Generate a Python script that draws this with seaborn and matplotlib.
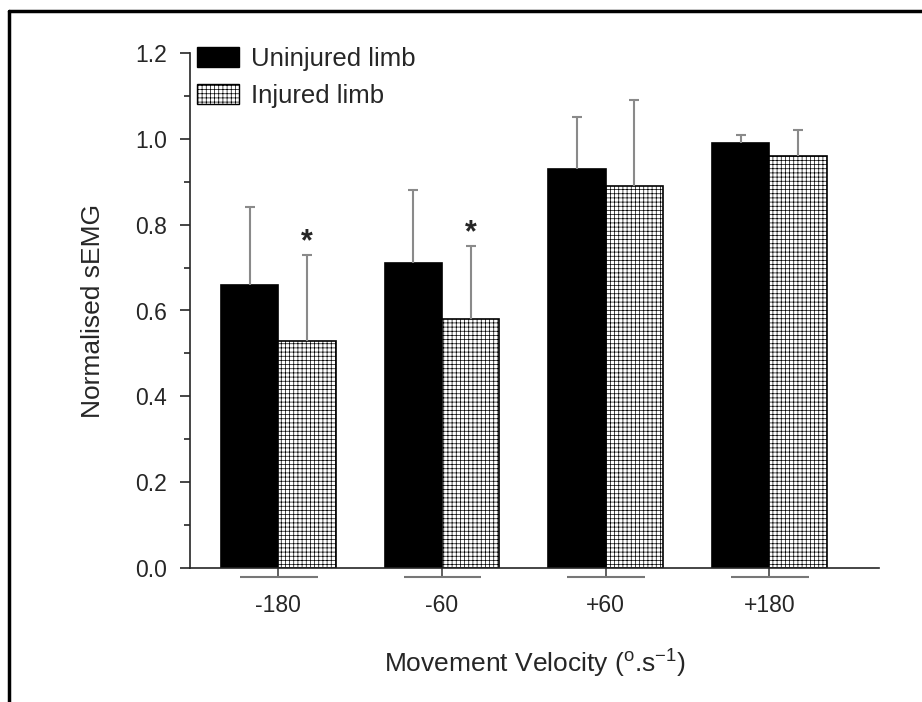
import numpy as np
import pandas as pd
import matplotlib.pyplot as plt
import seaborn as sns
from matplotlib.lines import Line2D
from matplotlib.patches import Patch
from matplotlib.ticker import MultipleLocator, FormatStrFormatter

# Datele
velocities = ["-180", "-60", "+60", "+180"]
uninjured_mean = [0.66, 0.71, 0.93, 0.99]
uninjured_sd = [0.18, 0.17, 0.12, 0.02]
injured_mean = [0.53, 0.58, 0.89, 0.96]
injured_sd = [0.20, 0.17, 0.20, 0.06]
significant = [True, True, False, False]  # asterisc pe membrul lezat

groups = ["Uninjured limb", "Injured limb"]

data = pd.DataFrame({
    "Velocity": velocities * 2,
    "Limb": [groups[0]] * 4 + [groups[1]] * 4,
    "sEMG": uninjured_mean + injured_mean,
})

sns.set_style("ticks")
plt.rcParams["font.family"] = ["Liberation Sans", "DejaVu Sans"]
plt.rcParams["mathtext.default"] = "regular"
plt.rcParams["hatch.linewidth"] = 0.5

fig = plt.figure(figsize=(9.22, 7.02), dpi=100)
ax = fig.add_axes([190 / 922, 1 - 568 / 702, 689 / 922, 515 / 702])

sns.barplot(data=data, x="Velocity", y="sEMG", hue="Limb", order=velocities,
            hue_order=groups, palette=["black", "white"], width=0.7,
            edgecolor="black", linewidth=1.2, errorbar=None, legend=False, ax=ax)

# hasura pentru membrul lezat
for bar in ax.containers[1]:
    bar.set_hatch("++++")

# bare de eroare doar in sus
for cont, means, sds in [(ax.containers[0], uninjured_mean, uninjured_sd),
                         (ax.containers[1], injured_mean, injured_sd)]:
    xs = [b.get_x() + b.get_width() / 2 for b in cont]
    eb = ax.errorbar(xs, means, yerr=[np.zeros(len(sds)), sds], fmt="none",
                     ecolor="#8a8a8a", elinewidth=1.5, capsize=3.6, capthick=1.5, zorder=3)
    eb[1][0].set_visible(False)  # fara cap jos

for b, m, s, sig in zip(ax.containers[1], injured_mean, injured_sd, significant):
    if sig:
        ax.text(b.get_x() + b.get_width() / 2, m + s - 0.005, "*", ha="center",
                va="bottom", fontsize=22, fontweight="bold")

ax.set_ylim(0, 1.2)
ax.set_xlim(-0.54, 3.67)
ax.yaxis.set_major_locator(MultipleLocator(0.2))
ax.yaxis.set_minor_locator(MultipleLocator(0.1))
ax.yaxis.set_major_formatter(FormatStrFormatter("%.1f"))
ax.tick_params(axis="y", which="major", length=7.5, width=1.2, labelsize=16.5, pad=9)
ax.tick_params(axis="y", which="minor", length=4, width=1.2)
ax.tick_params(axis="x", length=7, width=1.2, labelsize=16.5, pad=12, color="#444444")
sns.despine(ax=ax)
ax.spines["left"].set_linewidth(1.2)
ax.spines["bottom"].set_linewidth(1.2)

# liniile gri de sub axa x
ax.hlines([-0.018] * 4, np.arange(4) - 0.235, np.arange(4) + 0.24,
          transform=ax.get_xaxis_transform(), colors="#777777", lw=1.5, clip_on=False)

ax.set_ylabel("Normalised sEMG", fontsize=19, labelpad=22)
ax.set_xlabel("Movement Velocity ($^{o}$.s$^{-1}$)", fontsize=19, labelpad=22)

handles = [Patch(facecolor="black", edgecolor="black"),
           Patch(facecolor="white", edgecolor="black", hatch="++++")]
ax.legend(handles, groups, loc="upper left", bbox_to_anchor=(0.01, 1.012),
          frameon=False, fontsize=18.5, handlelength=1.63, handleheight=0.82,
          handletextpad=0.47, labelspacing=0.5, borderpad=0, borderaxespad=0)

# chenarul imaginii (sus si stanga)
fig.add_artist(Line2D([9 / 922, 1], [1 - 11 / 702] * 2, transform=fig.transFigure,
                      color="black", lw=2.5))
fig.add_artist(Line2D([9 / 922] * 2, [0, 1 - 11 / 702], transform=fig.transFigure,
                      color="black", lw=2.5))

fig.savefig("out.png", dpi=100)
